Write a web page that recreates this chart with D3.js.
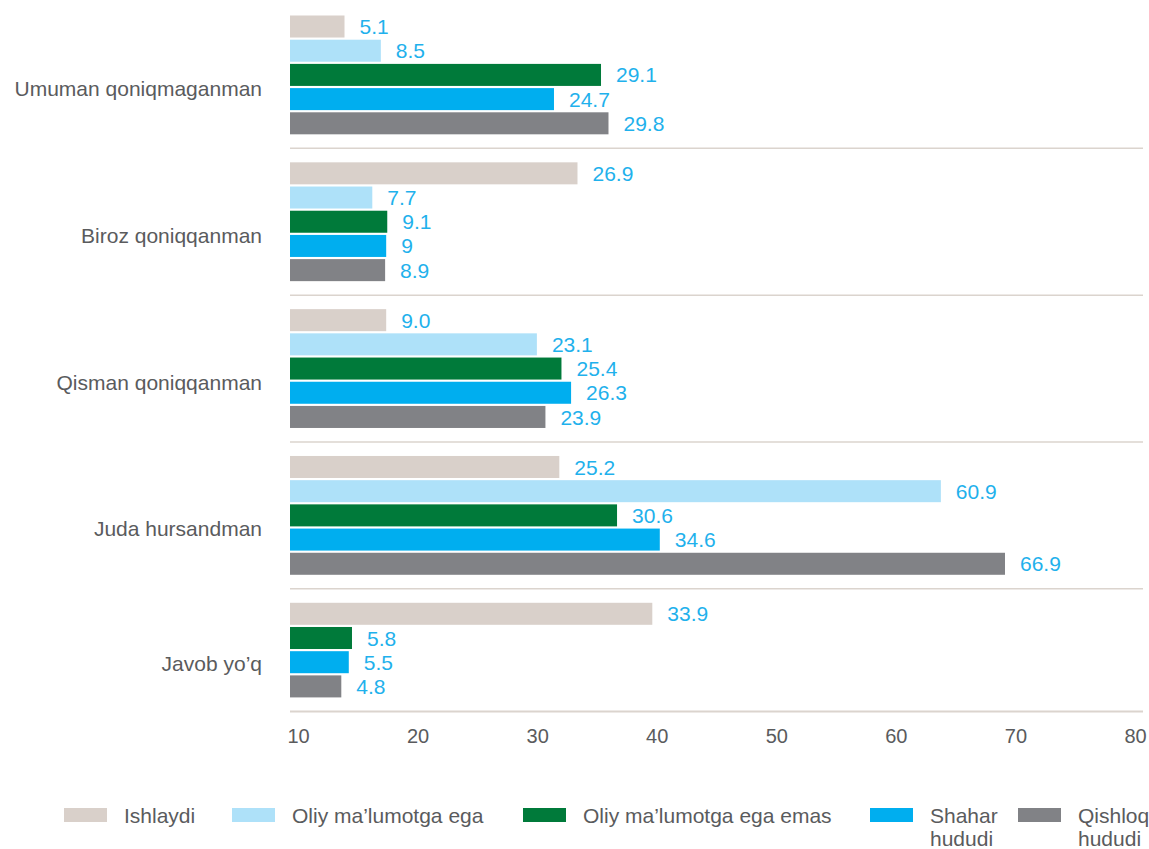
<!DOCTYPE html>
<html>
<head>
<meta charset="utf-8">
<script src="https://cdn.jsdelivr.net/npm/d3@7"></script>
<style>
  body { margin: 0; background: #fff; }
  text { font-family: "Liberation Sans", Arial, sans-serif; }
</style>
</head>
<body>
<svg width="1149" height="849"></svg>
<script>
// data (strings keep the printed form, e.g. "9.0" vs "9")
const categories = ["Umuman qoniqmaganman", "Biroz qoniqqanman", "Qisman qoniqqanman", "Juda hursandman", "Javob yo’q"];
const seriesNames = ["Ishlaydi", "Oliy ma’lumotga ega", "Oliy ma’lumotga ega emas", "Shahar hududi", "Qishloq hududi"];
const ishlaydi = ["5.1", "26.9", "9.0", "25.2", "33.9"];
const oliyEga = ["8.5", "7.7", "23.1", "60.9", null];
const oliyEmas = ["29.1", "9.1", "25.4", "30.6", "5.8"];
const shahar = ["24.7", "9", "26.3", "34.6", "5.5"];
const qishloq = ["29.8", "8.9", "23.9", "66.9", "4.8"];
const tickLabels = [10, 20, 30, 40, 50, 60, 70, 80];
const legendLines = [["Ishlaydi"], ["Oliy ma’lumotga ega"], ["Oliy ma’lumotga ega emas"], ["Shahar", "hududi"], ["Qishloq", "hududi"]];

const colours = ["#d9d0ca", "#aee1f9", "#007a3a", "#00aeef", "#818286"];
const valueColour = "#1fb1ec";
const textColour = "#5a5b5d";
const lineColour = "#dbd4ce";

//layout
const leftX = 290;
const rightX = 1145;
const topY = 1.5;
const step = 24.2;
const padIn = 0.09;
const padGroup = 14;
const legendX = [64, 232, 523, 870, 1018];
const legendY = 815;

const svg = d3.select("svg");
const allSeries = [ishlaydi, oliyEga, oliyEmas, shahar, qishloq];

const x = d3.scaleLinear().domain([0, 80]).range([leftX, rightX]);

// build groups, skipping missing bars so the group shrinks
let cursor = topY;
const groups = categories.map((c, i) => {
    const bars = seriesNames
        .map((s, j) => ({ series: s, idx: j, text: allSeries[j][i] }))
        .filter((b) => b.text !== null)
        .map((b) => ({ ...b, value: +b.text }));
    const inner = step * (bars.length - padIn);
    const y = d3.scaleBand()
        .domain(bars.map((b) => b.series))
        .range([cursor + padGroup, cursor + padGroup + inner])
        .paddingInner(padIn);
    const g = { name: c, bars, y, y0: cursor, y1: cursor + inner + 2 * padGroup };
    cursor = g.y1;
    return g;
});

const gs = svg.selectAll("g.group")
    .data(groups)
    .enter()
    .append("g")
    .attr("class", "group");

gs.selectAll("rect")
    .data((g) => g.bars.map((b) => ({ ...b, y: g.y })))
    .enter()
    .append("rect")
    .attr("x", x(0))
    .attr("y", (d) => d.y(d.series))
    .attr("width", (d) => x(d.value) - x(0))
    .attr("height", (d) => d.y.bandwidth())
    .attr("fill", (d) => colours[d.idx]);

gs.selectAll("text.value")
    .data((g) => g.bars.map((b) => ({ ...b, y: g.y })))
    .enter()
    .append("text")
    .attr("class", "value")
    .attr("x", (d) => x(d.value) + 15)
    .attr("y", (d) => d.y(d.series) + d.y.bandwidth() / 2)
    .attr("dy", "0.36em")
    .attr("font-size", 21)
    .attr("fill", valueColour)
    .text((d) => d.text);

//category labels
gs.append("text")
    .attr("x", 262)
    .attr("y", (g) => (g.y0 + g.y1) / 2 + 21)
    .attr("text-anchor", "end")
    .attr("font-size", 21)
    .attr("fill", textColour)
    .text((g) => g.name);

//separators between groups, axis line under the last
gs.append("line")
    .attr("x1", x(0))
    .attr("x2", x(80) - 2)
    .attr("y1", (g) => g.y1)
    .attr("y2", (g) => g.y1)
    .attr("stroke", lineColour)
    .attr("stroke-width", (g, i) => (i === groups.length - 1 ? 2 : 1.5));

// tick labels are spread evenly along the axis line, not on the bar scale
const tickScale = d3.scaleLinear().domain([10, 80]).range([x(0) + 8, x(80) - 10]);
const axisY = groups[groups.length - 1].y1;
const axis = svg.append("g")
    .attr("transform", "translate(0," + (axisY + 17) + ")")
    .call(d3.axisBottom(tickScale).tickValues(tickLabels).tickSize(0).tickPadding(0).tickFormat(d3.format("d")));
axis.select(".domain").remove();
axis.selectAll("text")
    .attr("font-size", 20)
    .attr("fill", textColour)
    .attr("font-family", "Liberation Sans, Arial, sans-serif");

//legend
const legend = svg.append("g").attr("class", "legend");
legendLines.forEach((lines, i) => {
    const item = legend.append("g").attr("transform", "translate(" + legendX[i] + "," + legendY + ")");
    item.append("rect")
        .attr("x", 0)
        .attr("y", -7)
        .attr("width", 43)
        .attr("height", 14)
        .attr("fill", colours[i]);
    lines.forEach((l, k) => {
        item.append("text")
            .attr("x", 60)
            .attr("y", 8 + k * 23)
            .attr("font-size", 21)
            .attr("fill", textColour)
            .text(l);
    });
});
</script>
</body>
</html>
